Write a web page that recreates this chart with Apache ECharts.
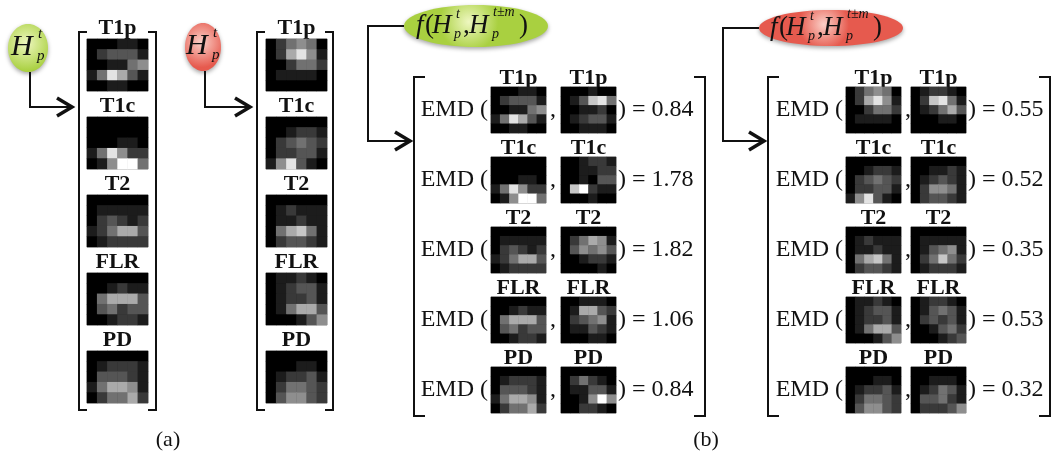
<!DOCTYPE html>
<html>
<head>
<meta charset="utf-8">
<script src="https://cdn.jsdelivr.net/npm/echarts@6/dist/echarts.min.js"></script>
<style>
  html, body { margin: 0; padding: 0; background: #fff; }
  #chart { width: 1059px; height: 464px; }
</style>
</head>
<body>
<div id="chart"></div>
<script>
// modality names and EMD results
const modalities = ['T1p', 'T1c', 'T2', 'FLR', 'PD'];
const greenEmd = [0.84, 1.78, 1.82, 1.06, 0.84];
const redEmd = [0.55, 0.52, 0.35, 0.53, 0.32];

// 5 rows x 6 bins, gray level 0..9
const greenHist = [
  [[0,0,0,1,1,0],[0,2,3,3,3,1],[0,0,1,1,4,5],[1,4,8,6,3,1],[0,0,1,1,0,0]],
  [[0,0,0,0,0,0],[0,0,0,0,0,0],[0,0,0,1,1,0],[1,4,8,5,2,2],[0,1,5,9,9,4]],
  [[0,0,0,0,0,0],[0,1,1,1,1,1],[0,2,3,2,1,2],[1,2,4,6,6,3],[0,1,2,2,2,2]],
  [[0,0,0,0,0,0],[0,0,1,2,1,1],[0,4,6,6,6,3],[0,3,4,2,3,3],[0,0,1,2,2,1]],
  [[0,0,0,0,0,0],[0,1,2,2,2,1],[0,3,3,3,2,1],[1,4,6,6,5,1],[0,2,4,4,6,2]]
];
const greenNeighbor = [
  [[0,0,0,1,0,0],[0,1,3,7,8,4],[0,0,1,1,2,0],[0,1,2,3,3,1],[0,0,1,1,1,0]],
  [[0,0,1,2,2,1],[0,0,1,1,2,2],[0,0,1,0,3,3],[0,7,9,2,1,1],[0,0,0,1,0,0]],
  [[0,0,0,0,0,0],[0,2,4,6,5,1],[0,3,5,4,5,3],[0,0,1,2,2,1],[0,0,0,0,1,0]],
  [[0,0,1,1,1,0],[0,1,6,6,3,2],[0,2,3,4,5,1],[0,1,1,3,2,1],[0,0,0,1,1,0]],
  [[0,0,0,0,0,0],[0,2,4,2,1,0],[0,1,1,3,3,1],[0,0,1,5,9,5],[0,0,2,2,1,0]]
];
const redHist = [
  [[0,2,4,5,4,0],[0,2,6,8,5,1],[0,0,2,4,4,2],[0,1,1,1,1,0],[0,0,0,0,0,0]],
  [[0,0,0,0,0,0],[0,0,1,2,2,1],[0,2,3,4,3,2],[0,2,2,3,3,1],[1,5,8,3,1,0]],
  [[0,0,0,0,0,0],[0,1,2,1,1,1],[0,1,1,2,1,1],[0,4,6,7,4,1],[0,2,3,3,2,1]],
  [[0,1,1,2,1,0],[0,1,2,3,3,1],[0,1,2,2,3,1],[0,1,4,6,6,3],[0,0,0,1,3,5]],
  [[0,0,0,0,0,0],[0,0,0,1,1,0],[0,1,2,2,3,1],[0,2,4,4,3,2],[0,3,5,5,3,2]]
];
const redNeighbor = [
  [[0,1,2,2,1,0],[0,2,7,8,4,1],[0,1,2,4,6,3],[0,0,0,1,1,0],[0,0,0,0,0,0]],
  [[0,0,0,0,0,0],[0,0,1,1,2,1],[0,1,2,3,2,1],[0,2,5,5,4,1],[0,2,3,3,2,1]],
  [[0,0,0,0,0,0],[0,1,1,1,1,1],[0,1,3,4,5,1],[0,2,4,7,4,2],[0,1,2,2,2,1]],
  [[0,1,2,2,1,0],[0,1,3,4,3,1],[0,2,3,2,3,1],[0,0,1,3,4,2],[0,0,0,1,2,3]],
  [[0,0,0,0,0,0],[0,0,1,1,1,0],[0,1,2,4,3,1],[0,3,3,4,2,1],[0,2,2,2,3,5]]
];

const serif = '"Liberation Serif", "Times New Roman", serif';
const GREEN = { center: '#eef7c0', edge: '#a9d040' };
const RED = { center: '#fbd0c8', edge: '#e65a4e' };

const grids = [], xAxes = [], yAxes = [], series = [], graphics = [];

function addHeat(hist, left, top, w, h) {
  const i = grids.length;
  grids.push({ left, top, width: w, height: h, show: true, backgroundColor: '#000',
    borderColor: '#9a9a9a', borderWidth: 1 });
  xAxes.push({ type: 'category', gridIndex: i, data: [0,1,2,3,4,5], show: false });
  yAxes.push({ type: 'category', gridIndex: i, data: [0,1,2,3,4], inverse: true, show: false });
  const data = [];
  hist.forEach((row, r) => row.forEach((v, c) => data.push([c, r, v])));
  series.push({ type: 'heatmap', xAxisIndex: i, yAxisIndex: i, data,
    itemStyle: { borderWidth: 0 }, emphasis: { disabled: true }, silent: true });
}

function text(str, x, y, size, opts) {
  graphics.push({ type: 'text', x, y, silent: true, style: Object.assign({
    text: str, font: size + 'px ' + serif, fill: '#111',
    textAlign: 'left', textVerticalAlign: 'middle' }, opts || {}) });
}

function line(points, width) {
  graphics.push({ type: 'polyline', silent: true, shape: { points },
    style: { stroke: '#111', lineWidth: width || 2, fill: null, lineJoin: 'miter' } });
}

function arrow(points) {
  line(points, 2);
  const [tx, ty] = points[points.length - 1];
  line([[tx - 15, ty - 9], [tx, ty], [tx - 15, ty + 9]], 3.5);
}

function bracket(l, r, t, b, s) {
  line([[l + s, t], [l, t], [l, b], [l + s, b]], 2);
  line([[r - s, t], [r, t], [r, b], [r - s, b]], 2);
}

function ellipse(cx, cy, rx, ry, col) {
  graphics.push({ type: 'ellipse', silent: true, shape: { cx, cy, rx, ry },
    style: { fill: new echarts.graphic.RadialGradient(0.45, 0.4, 0.7, [
      { offset: 0, color: col.center }, { offset: 1, color: col.edge }]),
      shadowBlur: 4, shadowColor: 'rgba(0,0,0,0.35)', shadowOffsetY: 2 } });
}

function hpt(x, y) {
  text('H', x, y, 30, { font: 'italic 30px ' + serif });
  text('t', x + 27, y - 13, 15, { font: 'italic 15px ' + serif });
  text('p', x + 26, y + 9, 15, { font: 'italic 15px ' + serif });
}

function fExpr(x0, y) {
  const it = s => ({ font: 'italic ' + s + 'px ' + serif });
  text('f', x0, y, 27, it(27));
  text('(', x0 + 9, y, 27);
  text('H', x0 + 16, y, 27, it(27));
  text('t', x0 + 40, y - 12, 14, it(14));
  text('p', x0 + 38, y + 8, 14, it(14));
  text(',', x0 + 47, y, 27);
  text('H', x0 + 53, y, 27, it(27));
  text('t\u00b1m', x0 + 77, y - 14, 14, it(14));
  text('p', x0 + 76, y + 8, 14, it(14));
  text(')', x0 + 103, y, 27);
}

const labelFont = 'bold 22px ' + serif;

// ---- panel (a)
[
  { hist: greenHist, x: 87, l: 79, r: 156, ell: [28, 48, 20, 24], col: GREEN, hx: 11 },
  { hist: redHist, x: 266, l: 257, r: 333, ell: [203, 47, 18, 24], col: RED, hx: 186 }
].forEach(p => {
  ellipse(p.ell[0], p.ell[1], p.ell[2], p.ell[3], p.col);
  hpt(p.hx, p.ell[1] - 1);
  arrow([[p.ell[0] + 2, p.ell[1] + p.ell[3]], [p.ell[0] + 2, 107], [p.l - 7, 107]]);
  bracket(p.l, p.r, 32, 410, 8);
  modalities.forEach((m, i) => {
    const top = 39 + 78 * i;
    addHeat(p.hist[i], p.x, top, 61, 52);
    text(m, p.x + 30.5, top - 11, 22, { font: labelFont, textAlign: 'center' });
  });
});
text('(a)', 168, 440, 22, { textAlign: 'center' });

// ---- panel (b)
[
  { a: greenHist, b: greenNeighbor, emd: greenEmd, col: GREEN, l: 414, r: 705,
    hx: [491, 561], ell: [476, 26, 72, 21], conn: 368, fx: 416 },
  { a: redHist, b: redNeighbor, emd: redEmd, col: RED, l: 768, r: 1050,
    hx: [846, 911], ell: [831, 28, 72, 18], conn: 723, fx: 770 }
].forEach(g => {
  ellipse(g.ell[0], g.ell[1], g.ell[2], g.ell[3], g.col);
  fExpr(g.fx, g.ell[1]);
  arrow([[g.ell[0] - g.ell[2], g.ell[1]], [g.conn, g.ell[1]], [g.conn, 141], [g.l - 4, 141]]);
  bracket(g.l, g.r, 77, 416, 11);
  modalities.forEach((m, i) => {
    const top = 87 + 70 * i;
    const cy = top + 23;
    addHeat(g.a[i], g.hx[0], top, 55, 46);
    addHeat(g.b[i], g.hx[1], top, 55, 46);
    text(m, g.hx[0] + 27.5, top - 9, 22, { font: labelFont, textAlign: 'center' });
    text(m, g.hx[1] + 27.5, top - 9, 22, { font: labelFont, textAlign: 'center' });
    text('EMD (', g.hx[0] - 3, cy, 24, { textAlign: 'right' });
    text(',', g.hx[0] + 59, cy, 24);
    text(') = ' + g.emd[i].toFixed(2), g.hx[1] + 57, cy, 24);
  });
});
text('(b)', 706, 440, 22, { textAlign: 'center' });

const chart = echarts.init(document.getElementById('chart'));
chart.setOption({
  backgroundColor: '#fff',
  animation: false,
  grid: grids,
  xAxis: xAxes,
  yAxis: yAxes,
  visualMap: {
    show: false, min: 0, max: 9, calculable: false,
    seriesIndex: series.map((s, i) => i),
    inRange: { color: ['#000000', '#ffffff'] }
  },
  series,
  graphic: graphics
});
</script>
</body>
</html>
